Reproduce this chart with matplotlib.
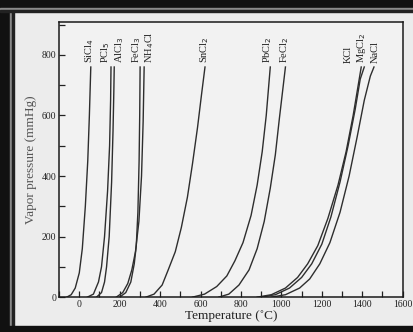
import matplotlib.pyplot as plt
from matplotlib.patches import Rectangle
from matplotlib.ticker import MultipleLocator

plt.rcParams['font.family'] = ['Liberation Serif', 'DejaVu Serif']

# vapor pressure curves: (temperature C, pressure mmHg)
compounds = ['SiCl$_4$', 'PCl$_5$', 'AlCl$_3$', 'FeCl$_3$', 'NH$_4$Cl', 'SnCl$_2$',
             'PbCl$_2$', 'FeCl$_2$', 'KCl', 'MgCl$_2$', 'NaCl']
# where the names sit along the top (temperature)
label_x = [49, 132, 198, 284, 350, 622, 934, 1017, 1329, 1398, 1462]

sicl4_t = [-62, -40, -20, 0, 15, 30, 42, 50, 57]
sicl4_p = [0, 8, 30, 80, 160, 300, 450, 600, 760]
pcl5_t = [40, 70, 95, 110, 125, 140, 150, 155, 157]
pcl5_p = [0, 10, 50, 100, 200, 350, 500, 650, 760]
alcl3_t = [85, 110, 125, 135, 148, 160, 167, 171, 173]
alcl3_p = [0, 15, 50, 100, 200, 380, 550, 680, 760]
fecl3_t = [200, 230, 255, 272, 282, 290, 296, 299, 301]
fecl3_p = [0, 15, 50, 110, 170, 280, 450, 600, 760]
nh4cl_t = [183, 215, 240, 260, 278, 295, 308, 316, 321]
nh4cl_p = [0, 15, 45, 90, 150, 250, 400, 580, 760]
sncl2_t = [330, 370, 410, 440, 475, 505, 535, 560, 585, 605, 622]
sncl2_p = [0, 10, 40, 90, 150, 230, 330, 440, 560, 670, 760]
pbcl2_t = [560, 620, 680, 730, 770, 810, 850, 880, 905, 925, 945]
pbcl2_p = [0, 10, 35, 70, 120, 180, 270, 370, 480, 600, 760]
fecl2_t = [690, 740, 790, 840, 880, 915, 945, 970, 990, 1020]
fecl2_p = [0, 10, 40, 90, 160, 250, 360, 470, 590, 760]
kcl_t = [880, 950, 1020, 1080, 1130, 1180, 1230, 1280, 1320, 1355, 1380, 1395]
kcl_p = [0, 8, 30, 65, 110, 170, 260, 370, 480, 600, 700, 760]
mgcl2_t = [900, 970, 1040, 1100, 1150, 1200, 1245, 1290, 1330, 1365, 1390, 1410]
mgcl2_p = [0, 8, 30, 65, 110, 175, 265, 380, 500, 620, 720, 760]
nacl_t = [950, 1020, 1090, 1140, 1190, 1240, 1290, 1335, 1375, 1410, 1440, 1458]
nacl_p = [0, 8, 30, 60, 110, 180, 280, 400, 530, 650, 730, 760]

series = [(sicl4_t, sicl4_p), (pcl5_t, pcl5_p), (alcl3_t, alcl3_p), (fecl3_t, fecl3_p),
          (nh4cl_t, nh4cl_p), (sncl2_t, sncl2_p), (pbcl2_t, pbcl2_p), (fecl2_t, fecl2_p),
          (kcl_t, kcl_p), (mgcl2_t, mgcl2_p), (nacl_t, nacl_p)]

fig = plt.figure(figsize=(4.13, 3.32), dpi=100, facecolor='#ececec')

# photo frame
fig.add_artist(Rectangle((0, 0), 10 / 413, 1, transform=fig.transFigure, color='#111111', zorder=0))
fig.add_artist(Rectangle((10 / 413, 0), 2 / 413, 1, transform=fig.transFigure, color='#8a8a8a', zorder=0))
fig.add_artist(Rectangle((12 / 413, 0), 1.5 / 413, 1, transform=fig.transFigure, color='#222222', zorder=0))
fig.add_artist(Rectangle((0, 1 - 8 / 332), 1, 8 / 332, transform=fig.transFigure, color='#111111', zorder=0))
fig.add_artist(Rectangle((0, 1 - 10 / 332), 1, 2 / 332, transform=fig.transFigure, color='#8a8a8a', zorder=0))
fig.add_artist(Rectangle((0, 1 - 11.5 / 332), 1, 1.5 / 332, transform=fig.transFigure, color='#222222', zorder=0))
fig.add_artist(Rectangle((0, 0), 1, 6 / 332, transform=fig.transFigure, color='#111111', zorder=0))

ax = fig.add_axes([0.143, 0.105, 0.832, 0.83])
ax.set_facecolor('#f2f2f2')

line_col = '#2e2e2e'
for name, lx, (t, p) in zip(compounds, label_x, series):
    ax.plot(t, p, color=line_col, lw=1.0)
    ax.text(lx, p[-1] + 12, name, rotation=90, ha='center', va='bottom',
            fontsize=7.5, color='#222222')

ax.set_xlim(-100, 1600)
ax.set_ylim(0, 910)
ax.xaxis.set_major_locator(MultipleLocator(200))
ax.xaxis.set_minor_locator(MultipleLocator(100))
ax.yaxis.set_major_locator(MultipleLocator(200))
ax.yaxis.set_minor_locator(MultipleLocator(100))
ax.tick_params(which='both', direction='in', length=4, width=0.9, colors='#222222',
               labelsize=7, pad=2)
for s in ax.spines.values():
    s.set_color('#1a1a1a')
    s.set_linewidth(1.1)

ax.set_xlabel('Temperature (\u02daC)', fontsize=9.5, color='#222222', labelpad=1)
ax.set_ylabel('Vapor pressure (mmHg)', fontsize=9.5, color='#555555', labelpad=3)

fig.savefig('out.png', dpi=100, facecolor=fig.get_facecolor())
